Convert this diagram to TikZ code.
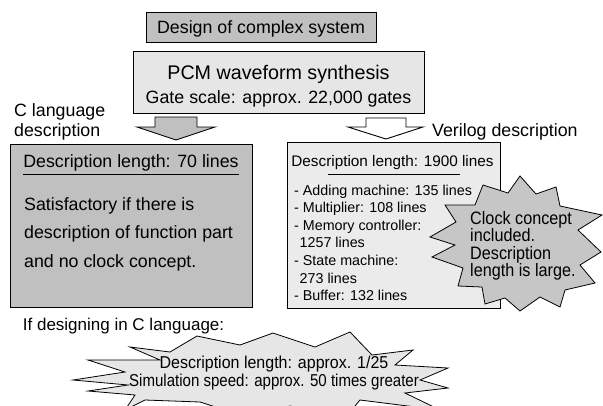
\documentclass[tikz,border=0pt]{standalone}
\usepackage{fontspec}
\setmainfont{Liberation Sans}
\usepackage{graphicx}
\definecolor{midgrey}{HTML}{C0C0C0}
\definecolor{lightgrey}{HTML}{E6E6E6}
\definecolor{boxgrey}{HTML}{EBEBEB}
\definecolor{burstgrey}{HTML}{C6C6C6}
\newcommand{\setfs}[1]{\fontsize{#1}{#1}\selectfont}

\begin{document}
\begin{tikzpicture}[x=1pt, y=-1pt, line join=miter,
  box/.style={draw=black, line width=0.9pt, inner sep=0pt},
  lbl/.style={inner sep=0pt, anchor=base west},
  ctr/.style={inner sep=0pt, anchor=base},
  block/.style={draw=black, line width=0.9pt},
  burst/.style={draw=black, line width=0.8pt},
  rule/.style={line width=0.8pt}]
\useasboundingbox (0,0) rectangle (603,405);

% top title
\node[box, fill=midgrey, minimum width=230pt, minimum height=30pt] (design) at (261,27) {};
\node[ctr] (designtxt) at (261,33.4) {\setfs{17.8}Design of complex system};

% system box
\node[box, fill=lightgrey, minimum width=291pt, minimum height=62pt] (pcm) at (278.5,82) {};
\node[ctr] (pcmtitle) at (278.5,79) {\setfs{19.7}PCM waveform synthesis};
\node[ctr] (pcmgates) at (278.5,103.5) {\setfs{17.8}Gate scale: approx. 22,000 gates};

% block arrows
\draw[block, fill=midgrey] (155,117) -- (197,117) -- (197,127) -- (215,127) -- (176,140)
  -- (137,127) -- (155,127) -- cycle;
\draw[block, fill=white] (366,118) -- (406,118) -- (406,127) -- (423,127) -- (386,139)
  -- (348,127) -- (366,127) -- cycle;

\node[lbl] (clang1) at (14,116.7) {\setfs{17.8}C language};
\node[lbl] (clang2) at (14,136) {\setfs{17.8}description};
\node[lbl] (veri) at (432,136) {\setfs{17.8}Verilog description};

% C description box
\node[box, fill=midgrey, minimum width=242pt, minimum height=163pt] (cbox) at (131,225.5) {};
\node[ctr] (chead) at (131,167.7) {\setfs{17.8}Description length: 70 lines};
\draw[rule] (23,174) -- (239,174);
\node[lbl] (cb1) at (24,210) {\setfs{17.8}Satisfactory if there is};
\node[lbl] (cb2) at (24,238.5) {\setfs{17.8}description of function part};
\node[lbl] (cb3) at (24,267) {\setfs{17.8}and no clock concept.};

% Verilog description box
\node[box, fill=boxgrey, minimum width=213pt, minimum height=166pt] (vbox) at (393.5,225) {};
\node[ctr] (vhead) at (392.5,166) {\setfs{15.3}Description length: 1900 lines};
\draw[rule] (328,174) -- (460,174);
\node[lbl] (v1) at (294,195) {\setfs{14.3}- Adding machine: 135 lines};
\node[lbl] (v2) at (294,212.6) {\setfs{14.3}- Multiplier: 108 lines};
\node[lbl] (v3) at (294,230.2) {\setfs{14.3}- Memory controller:};
\node[lbl] (v4) at (299.5,247.8) {\setfs{14.3}1257 lines};
\node[lbl] (v5) at (294,265.4) {\setfs{14.3}- State machine:};
\node[lbl] (v6) at (299.5,283) {\setfs{14.3}273 lines};
\node[lbl] (v7) at (294,300.6) {\setfs{14.3}- Buffer: 132 lines};

% burst over the Verilog box
\draw[burst, fill=burstgrey]
  (520,176) -- (536,194) -- (556,187) -- (560,206) -- (602,215) -- (578,230)
  -- (601,252) -- (580,265) -- (595,283) -- (565,290) -- (560,307) -- (540,297)
  -- (520,311) -- (505,298) -- (485,304) -- (482,287) -- (458,286) -- (463,268)
  -- (432,257) -- (455,245) -- (430,237) -- (456,222) -- (445,205) -- (475,205)
  -- (483,185) -- (508,193) -- cycle;
\node[lbl] (s1) at (470,224) {\setfs{18}\scalebox{0.9}[1]{Clock concept}};
\node[lbl] (s2) at (470,241.5) {\setfs{18}\scalebox{0.9}[1]{included.}};
\node[lbl] (s3) at (470,259) {\setfs{18}\scalebox{0.9}[1]{Description}};
\node[lbl] (s4) at (470,276.5) {\setfs{18}\scalebox{0.9}[1]{length is large.}};

% conclusion
\node[lbl] (ifc) at (22.7,330.7) {\setfs{17}If designing in C language:};

\begin{scope}
\clip (0,0) rectangle (603,405);
\draw[burst, fill=lightgrey]
  (130,347) -- (170,352) -- (197,336) -- (240,345) -- (273,333) -- (315,347)
  -- (350,332) -- (372,355) -- (413,350) -- (395,365) -- (448,368) -- (420,380)
  -- (448,388) -- (405,393) -- (440,410) -- (360,400) -- (345,418) -- (290,406)
  -- (250,418) -- (200,402) -- (145,400) -- (125,410) -- (135,395) -- (88,391)
  -- (128,385) -- (73,380) -- (125,372) -- (88,360) -- (160,360) -- cycle;
\end{scope}
\node[ctr] (r1) at (274,368.3) {\setfs{17.2}\scalebox{0.93}[1]{Description length: approx. 1/25}};
\node[ctr] (r2) at (274,386) {\setfs{17.2}\scalebox{0.875}[1]{Simulation speed: approx. 50 times greater}};
\end{tikzpicture}
\end{document}
